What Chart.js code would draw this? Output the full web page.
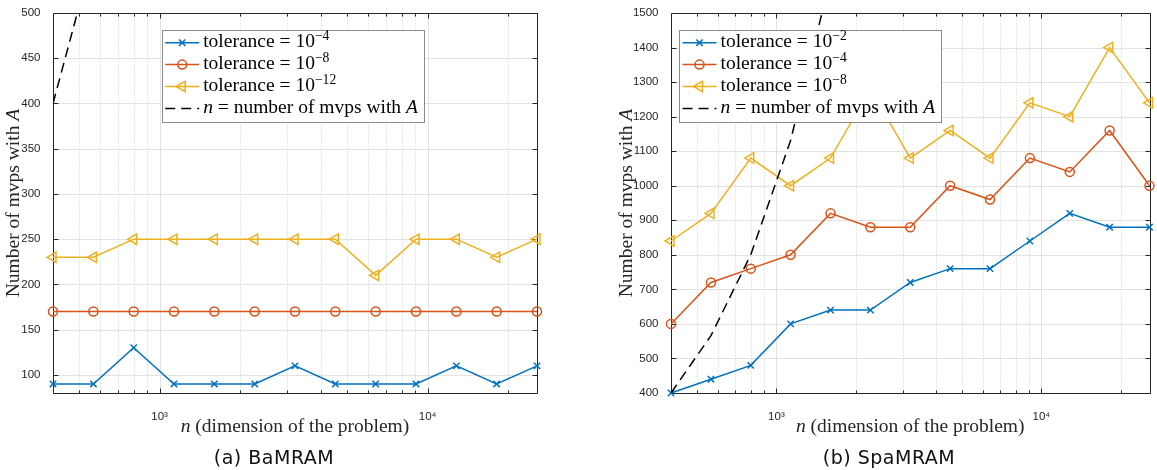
<!DOCTYPE html>
<html>
<head>
<meta charset="utf-8">
<script src="https://cdn.jsdelivr.net/npm/chart.js@4.4.1/dist/chart.umd.min.js"></script>
<style>
  body { margin: 0; background: #fff; width: 1157px; height: 470px; overflow: hidden; position: relative; }
  .panel { position: absolute; top: 0; height: 470px; }
  .cap { position: absolute; top: 448px; font: 19px "DejaVu Sans", sans-serif; line-height: 19px;
         letter-spacing: 0.5px; color: #111; white-space: nowrap; transform: translateX(-50%); }
</style>
</head>
<body>
<div class="panel" style="left:0;width:580px"><canvas id="bamChart"></canvas></div>
<div class="panel" style="left:580px;width:577px"><canvas id="spaChart"></canvas></div>
<div class="cap" style="left:274px">(a) BaMRAM</div>
<div class="cap" style="left:889px">(b) SpaMRAM</div>
<script>
// problem sizes n (x axis, log scale)
const nValues = [400, 566, 800, 1131, 1600, 2263, 3200, 4525, 6400, 9051, 12800, 18102, 25600];
// reference line: n = number of mvps
const refLine = [400, 566, 800, 1131, 1600, 2263, 3200, 4525, 6400, 9051, 12800, 18102, 25600];

// (a) BaMRAM
const bamTol4  = [90, 90, 130, 90, 90, 90, 110, 90, 90, 90, 110, 90, 110];
const bamTol8  = [170, 170, 170, 170, 170, 170, 170, 170, 170, 170, 170, 170, 170];
const bamTol12 = [230, 230, 250, 250, 250, 250, 250, 250, 210, 250, 250, 230, 250];
const bamLabels = ['tolerance = 10^-4', 'tolerance = 10^-8', 'tolerance = 10^-12', '$n$ = number of mvps with $A$'];
const bamYTicks = [100, 150, 200, 250, 300, 350, 400, 450, 500];

// (b) SpaMRAM
const spaTol2 = [400, 440, 480, 600, 640, 640, 720, 760, 760, 840, 920, 880, 880];
const spaTol4 = [600, 720, 760, 800, 920, 880, 880, 1000, 960, 1080, 1040, 1160, 1000];
const spaTol8 = [840, 920, 1080, 1000, 1080, 1280, 1080, 1160, 1080, 1240, 1200, 1400, 1240];
const spaLabels = ['tolerance = 10^-2', 'tolerance = 10^-4', 'tolerance = 10^-8', '$n$ = number of mvps with $A$'];
const spaYTicks = [400, 500, 600, 700, 800, 900, 1000, 1100, 1200, 1300, 1400, 1500];

// x ticks
const xMinorTicks = [500, 600, 700, 800, 900, 2000, 3000, 4000, 5000, 6000, 7000, 8000, 9000, 20000];
const xMajorTicks = [1000, 10000];
const xTickLabels = ['10³', '10⁴'];

const xTitle = '$n$ (dimension of the problem)';
const yTitle = 'Number of mvps with $A$';

const SERIF = '"Liberation Serif", "Times New Roman", serif';
const SANS = '"Liberation Sans", Arial, sans-serif';
const styles = [
  { color: '#0072BD', pointStyle: 'crossRot', radius: 4.5, rotation: 0 },
  { color: '#D95319', pointStyle: 'circle', radius: 4.5, rotation: 0 },
  { color: '#EDB120', pointStyle: 'triangle', radius: 6, rotation: -90 },
];

// "tolerance = 10^-4" / "$n$ ..." -> text runs
function toRuns(label) {
  const out = [];
  label.split(/(\$[^$]+\$|\^\S+)/).forEach(p => {
    if (!p) return;
    if (p[0] === '$') out.push({ t: p.slice(1, -1), it: true });
    else if (p[0] === '^') out.push({ t: p.slice(1).replace('-', '\u2212'), sup: true });
    else out.push({ t: p });
  });
  return out;
}

function runFont(r, size) {
  return (r.it ? 'italic ' : '') + (r.sup ? size * 0.7 : size) + 'px ' + SERIF;
}

function runsWidth(ctx, runs, size) {
  return runs.reduce((w, r) => { ctx.font = runFont(r, size); return w + ctx.measureText(r.t).width; }, 0);
}

function drawRuns(ctx, runs, x, y, size, center) {
  let cx = center ? x - runsWidth(ctx, runs, size) / 2 : x;
  ctx.textBaseline = 'alphabetic';
  ctx.textAlign = 'left';
  runs.forEach(r => {
    ctx.font = runFont(r, size);
    ctx.fillText(r.t, cx, r.sup ? y - size * 0.38 : y);
    cx += ctx.measureText(r.t).width;
  });
}

function drawMarker(ctx, style, x, y, r, rot) {
  ctx.beginPath();
  if (style === 'circle') {
    ctx.arc(x, y, r, 0, Math.PI * 2);
  } else if (style === 'crossRot') {
    const d = r * Math.SQRT1_2;
    ctx.moveTo(x - d, y - d); ctx.lineTo(x + d, y + d);
    ctx.moveTo(x - d, y + d); ctx.lineTo(x + d, y - d);
  } else {
    let rad = rot * Math.PI / 180;
    ctx.moveTo(x + Math.sin(rad) * r, y - Math.cos(rad) * r);
    rad += Math.PI * 2 / 3;
    ctx.lineTo(x + Math.sin(rad) * r, y - Math.cos(rad) * r);
    rad += Math.PI * 2 / 3;
    ctx.lineTo(x + Math.sin(rad) * r, y - Math.cos(rad) * r);
    ctx.closePath();
  }
  ctx.stroke();
}

// MATLAB-like axes: grid, box, inward ticks, titles, legend
const frame = {
  id: 'frame',
  beforeDatasetsDraw(chart, args, o) {
    const { ctx, chartArea: a, scales: { x, y } } = chart;
    const L = Math.round(a.left) + 0.5, R = Math.round(a.right) + 0.5;
    const T = Math.round(a.top) + 0.5, B = Math.round(a.bottom) + 0.5;
    ctx.save();
    ctx.lineWidth = 1;
    ctx.strokeStyle = '#cdcdcd';
    ctx.setLineDash([1, 2]);
    ctx.beginPath();
    xMinorTicks.forEach(v => { const p = Math.round(x.getPixelForValue(v)) + 0.5; ctx.moveTo(p, T); ctx.lineTo(p, B); });
    ctx.stroke();
    ctx.setLineDash([]);
    ctx.strokeStyle = '#e2e2e2';
    ctx.beginPath();
    xMajorTicks.forEach(v => { const p = Math.round(x.getPixelForValue(v)) + 0.5; ctx.moveTo(p, T); ctx.lineTo(p, B); });
    o.yTicks.forEach(v => { const p = Math.round(y.getPixelForValue(v)) + 0.5; ctx.moveTo(L, p); ctx.lineTo(R, p); });
    ctx.stroke();

    ctx.strokeStyle = '#262626';
    ctx.beginPath();
    ctx.rect(L, T, R - L, B - T);
    xMinorTicks.forEach(v => {
      const p = Math.round(x.getPixelForValue(v)) + 0.5;
      ctx.moveTo(p, B); ctx.lineTo(p, B - 3); ctx.moveTo(p, T); ctx.lineTo(p, T + 3);
    });
    xMajorTicks.forEach(v => {
      const p = Math.round(x.getPixelForValue(v)) + 0.5;
      ctx.moveTo(p, B); ctx.lineTo(p, B - 5); ctx.moveTo(p, T); ctx.lineTo(p, T + 5);
    });
    o.yTicks.forEach(v => {
      const p = Math.round(y.getPixelForValue(v)) + 0.5;
      ctx.moveTo(L, p); ctx.lineTo(L + 5, p); ctx.moveTo(R, p); ctx.lineTo(R - 5, p);
    });
    ctx.stroke();

    // axis titles
    ctx.fillStyle = '#262626';
    drawRuns(ctx, toRuns(xTitle), (a.left + a.right) / 2, a.bottom + 38.5, 19.5, true);
    ctx.translate(o.yTitleX, (a.top + a.bottom) / 2);
    ctx.rotate(-Math.PI / 2);
    drawRuns(ctx, toRuns(yTitle), 0, 0, 19.5, true);
    ctx.restore();
  },
  afterDatasetsDraw(chart, args, o) {
    const { ctx } = chart;
    const size = 19.5, rowH = 21.9;
    const runs = o.labels.map(toRuns);
    const maxW = Math.max(...runs.map(r => runsWidth(ctx, r, size)));
    const bx = o.legendX, by = o.legendY, bw = 41.5 + maxW + 6, bh = 92.3;
    ctx.save();
    ctx.fillStyle = '#fff';
    ctx.fillRect(bx, by, bw, bh);
    ctx.strokeStyle = '#8a8a8a';
    ctx.lineWidth = 1;
    ctx.strokeRect(Math.round(bx) + 0.5, Math.round(by) + 0.5, Math.round(bw), Math.round(bh));
    chart.data.datasets.forEach((ds, i) => {
      const cy = by + 12.7 + i * rowH;
      ctx.strokeStyle = ds.borderColor;
      ctx.lineWidth = 1.5;
      ctx.setLineDash(ds.borderDash || []);
      ctx.beginPath();
      ctx.moveTo(bx + 3.5, cy); ctx.lineTo(bx + 37.5, cy);
      ctx.stroke();
      ctx.setLineDash([]);
      if (ds.pointRadius) drawMarker(ctx, ds.pointStyle, bx + 20.5, cy, ds.pointRadius, ds.pointRotation);
      ctx.fillStyle = '#000';
      drawRuns(ctx, runs[i], bx + 41.5, cy + 4.5, size, false);
    });
    ctx.restore();
  },
};

function makeChart(id, series, labels, yMin, yMax, yTicks, plotLeft, padRight, legendX, yTitleX) {
  const datasets = series.map((vals, i) => ({
    label: labels[i].replace(/\$/g, ''),
    data: nValues.map((n, k) => ({ x: n, y: vals[k] })),
    borderColor: styles[i].color,
    backgroundColor: styles[i].color,
    borderWidth: 1.5,
    pointStyle: styles[i].pointStyle,
    pointRadius: styles[i].radius,
    pointRotation: styles[i].rotation,
    pointBorderWidth: 1.5,
    pointBorderColor: styles[i].color,
    pointBackgroundColor: 'rgba(255,255,255,0)',
    clip: false,
    order: 4 - i,
  }));
  datasets.push({
    label: labels[3].replace(/\$/g, ''),
    data: nValues.map((n, k) => ({ x: n, y: refLine[k] })),
    borderColor: '#000',
    borderWidth: 1.5,
    borderDash: [10, 6],
    pointRadius: 0,
    order: 0,
  });

  return new Chart(document.getElementById(id), {
    type: 'line',
    data: { datasets },
    options: {
      responsive: true,
      maintainAspectRatio: false,
      animation: false,
      events: [],
      layout: { padding: { left: 0, right: padRight, top: 13, bottom: 0 } },
      plugins: {
        legend: { display: false },
        tooltip: { enabled: false },
        frame: { yTicks, labels, legendX, legendY: 30, yTitleX },
      },
      scales: {
        x: {
          type: 'logarithmic', min: 400, max: 25600,
          grid: { display: false }, border: { display: false },
          ticks: {
            autoSkip: false, maxRotation: 0, padding: 9, color: '#262626',
            font: { family: SANS, size: 11.5 },
            callback: v => { const k = xMajorTicks.indexOf(v); return k >= 0 ? xTickLabels[k] : ''; },
          },
          afterBuildTicks: s => { s.ticks = [...xMinorTicks, ...xMajorTicks].sort((a, b) => a - b).map(v => ({ value: v })); },
          afterFit: s => { s.height = 77; },
        },
        y: {
          min: yMin, max: yMax,
          grid: { display: false }, border: { display: false },
          ticks: {
            padding: 4.5, color: '#262626', font: { family: SANS, size: 11.5 },
            callback: v => String(v),
          },
          afterBuildTicks: s => { s.ticks = yTicks.map(v => ({ value: v })); },
          afterFit: s => { s.width = plotLeft; },
        },
      },
    },
    plugins: [frame],
  });
}

makeChart('bamChart', [bamTol4, bamTol8, bamTol12], bamLabels, 80, 500, bamYTicks, 53, 43, 161.7, 19);
makeChart('spaChart', [spaTol2, spaTol4, spaTol8], spaLabels, 400, 1500, spaYTicks, 91, 3, 99, 52);
</script>
</body>
</html>
